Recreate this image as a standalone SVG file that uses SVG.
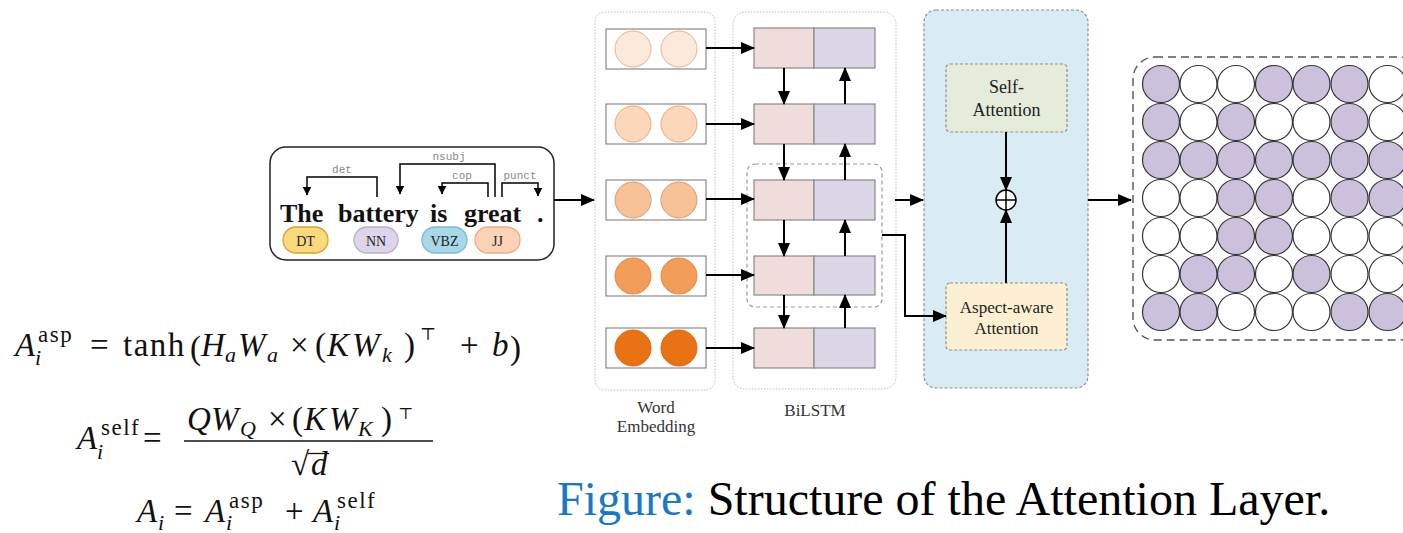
<svg xmlns="http://www.w3.org/2000/svg" width="1403" height="533" viewBox="0 0 1403 533">
<style>
.serif{font-family:"Liberation Serif","Times New Roman",serif}
.mi{font-family:"Liberation Serif","DejaVu Serif",serif;font-style:italic;font-size:33px;fill:#111}
.mr{font-family:"Liberation Serif","DejaVu Serif",serif;font-size:33px;fill:#111}
.sup{font-family:"Liberation Serif","DejaVu Serif",serif;font-size:23px;fill:#111;letter-spacing:1.5px}
.top{font-family:"DejaVu Serif","Liberation Serif",serif;fill:#111}
.subi{font-family:"Liberation Serif","DejaVu Serif",serif;font-style:italic;font-size:22px;fill:#111}
.word{font-family:"Liberation Serif",serif;font-weight:bold;font-size:26px;fill:#111}
.tag{font-family:"Liberation Serif",serif;font-size:14px;fill:#222;text-anchor:middle}
.rel{font-family:"Liberation Mono",monospace;font-size:11px;fill:#888;text-anchor:middle}
.lbl{font-family:"Liberation Serif",serif;font-size:17px;fill:#333;text-anchor:middle}
.panel{fill:#fff;stroke:#bdbdbd;stroke-width:1;stroke-dasharray:1.5 1.5}
.ebox{fill:#fff;stroke:#8a8a8a;stroke-width:1.2}
.fw{fill:#f1dcdc;stroke:#8a8a8a;stroke-width:1.2}
.bw{fill:#dcd7e6;stroke:#8a8a8a;stroke-width:1.2}
.con{fill:none;stroke:#000;stroke-width:2}
.arc{fill:none;stroke:#000;stroke-width:1.5}
.g{stroke:#333;stroke-width:1.2}
.p{fill:#cbc1dc}
.w{fill:#fff}
</style>
<defs>
<marker id="ah" markerUnits="userSpaceOnUse" markerWidth="14" markerHeight="12" refX="13" refY="6" orient="auto">
<path d="M0,0 L14,6 L0,12 Z" fill="#000"/>
</marker>
<marker id="sa" markerUnits="userSpaceOnUse" markerWidth="9" markerHeight="9" refX="8.5" refY="4.5" orient="auto">
<path d="M0,0 L9,4.5 L0,9 Z" fill="#000"/>
</marker>
</defs>

<!-- Dependency parse node -->
<g id="parse">
<rect x="270" y="147" width="284" height="113" rx="16" fill="#fff" stroke="#222" stroke-width="1.5"/>
<path class="arc" d="M377,197 V177 H307 V195" marker-end="url(#sa)"/>
<path class="arc" d="M495,197 V164 H400 V194" marker-end="url(#sa)"/>
<path class="arc" d="M488,197 V183 H442 V194" marker-end="url(#sa)"/>
<path class="arc" d="M502,197 V183 H538 V196" marker-end="url(#sa)"/>
<text class="rel" x="342" y="173">det</text>
<text class="rel" x="449" y="160">nsubj</text>
<text class="rel" x="462" y="179">cop</text>
<text class="rel" x="520" y="179">punct</text>
<text class="word" x="280" y="222">The</text>
<text class="word" x="338" y="222">battery</text>
<text class="word" x="430" y="222">is</text>
<text class="word" x="464" y="222">great</text>
<text class="word" x="537" y="222">.</text>
<rect x="283" y="227" width="45" height="26" rx="13" fill="#f8d97c" stroke="#d3a62c" stroke-width="1.3"/>
<rect x="354" y="227" width="44" height="26" rx="13" fill="#ddd5e8" stroke="#b8aed0" stroke-width="1.3"/>
<rect x="422" y="227" width="45" height="26" rx="13" fill="#a8d8e5" stroke="#7cbcd0" stroke-width="1.3"/>
<rect x="475" y="227" width="45" height="26" rx="13" fill="#fbd3b7" stroke="#f0aa80" stroke-width="1.3"/>
<text class="tag" x="305.5" y="246">DT</text>
<text class="tag" x="376" y="246">NN</text>
<text class="tag" x="444.5" y="246">VBZ</text>
<text class="tag" x="497.5" y="246">JJ</text>
</g>

<!-- Word embedding node -->
<g id="word-embedding">
<rect class="panel" x="595" y="12" width="120" height="378" rx="10"/>
<rect class="ebox" x="606" y="29" width="100" height="40"/>
<circle cx="633" cy="49" r="18" fill="#fde9da" stroke="#e6b48f"/>
<circle cx="679" cy="49" r="18" fill="#fde9da" stroke="#e6b48f"/>
<rect class="ebox" x="606" y="104" width="100" height="40"/>
<circle cx="633" cy="124" r="18" fill="#fbd7bb" stroke="#e6a77a"/>
<circle cx="679" cy="124" r="18" fill="#fbd7bb" stroke="#e6a77a"/>
<rect class="ebox" x="606" y="180" width="100" height="40"/>
<circle cx="633" cy="200" r="18" fill="#f8c298" stroke="#e39a62"/>
<circle cx="679" cy="200" r="18" fill="#f8c298" stroke="#e39a62"/>
<rect class="ebox" x="606" y="256" width="100" height="40"/>
<circle cx="633" cy="276" r="18" fill="#f29d5a" stroke="#e08a45"/>
<circle cx="679" cy="276" r="18" fill="#f29d5a" stroke="#e08a45"/>
<rect class="ebox" x="606" y="328" width="100" height="40"/>
<circle cx="633" cy="348" r="18" fill="#e97214" stroke="#d9660f"/>
<circle cx="679" cy="348" r="18" fill="#e97214" stroke="#d9660f"/>
<text class="lbl" x="656" y="413">Word</text>
<text class="lbl" x="656" y="432">Embedding</text>
</g>

<!-- BiLSTM node -->
<g id="bilstm">
<rect class="panel" x="733" y="12" width="163" height="377" rx="12"/>
<rect x="747" y="164" width="135" height="143" rx="8" fill="none" stroke="#9a9a9a" stroke-width="1.2" stroke-dasharray="4 3"/>
<rect class="fw" x="754" y="28" width="60" height="40"/><rect class="bw" x="814" y="28" width="61" height="40"/>
<rect class="fw" x="754" y="104" width="60" height="40"/><rect class="bw" x="814" y="104" width="61" height="40"/>
<rect class="fw" x="754" y="180" width="60" height="40"/><rect class="bw" x="814" y="180" width="61" height="40"/>
<rect class="fw" x="754" y="256" width="60" height="39"/><rect class="bw" x="814" y="256" width="61" height="39"/>
<rect class="fw" x="754" y="328" width="60" height="40"/><rect class="bw" x="814" y="328" width="61" height="40"/>
<text class="lbl" x="815" y="416">BiLSTM</text>
</g>

<!-- Attention node -->
<g id="attention">
<rect x="924" y="10" width="164" height="378" rx="12" fill="#d9ecf3" stroke="#8f8f8f" stroke-width="1.2" stroke-dasharray="3 2"/>
<g id="self-attention">
<rect x="946" y="64" width="121" height="68" rx="4" fill="#e5ecda" stroke="#8f8f8f" stroke-width="1.2" stroke-dasharray="3 2"/>
<text class="serif" x="1006.5" y="93" font-size="18" text-anchor="middle" fill="#222">Self-</text>
<text class="serif" x="1006.5" y="116" font-size="18" text-anchor="middle" fill="#222">Attention</text>
</g>
<g id="aspect-attention">
<rect x="946" y="283" width="121" height="67" rx="4" fill="#fdf0d2" stroke="#8f8f8f" stroke-width="1.2" stroke-dasharray="3 2"/>
<text class="serif" x="1006.5" y="313" font-size="17" text-anchor="middle" fill="#222">Aspect-aware</text>
<text class="serif" x="1006.5" y="334" font-size="17" text-anchor="middle" fill="#222">Attention</text>
</g>
<g id="sum">
<circle cx="1006" cy="200" r="10" fill="#fff" stroke="#000" stroke-width="1.5"/>
<path d="M996,200 H1016 M1006,190 V210" stroke="#000" stroke-width="1.5"/>
</g>
</g>

<!-- Output grid node -->
<g id="output-grid">
<rect x="1133" y="57" width="290" height="283" rx="22" fill="#fff" stroke="#555" stroke-width="1.4" stroke-dasharray="8 5"/>
<g class="g">
<circle class="p" cx="1161" cy="84" r="18.5"/><circle class="w" cx="1198.5" cy="84" r="18.5"/><circle class="w" cx="1236" cy="84" r="18.5"/><circle class="p" cx="1274" cy="84" r="18.5"/><circle class="p" cx="1311.5" cy="84" r="18.5"/><circle class="p" cx="1349.5" cy="84" r="18.5"/><circle class="w" cx="1387.5" cy="84" r="18.5"/>
<circle class="p" cx="1161" cy="122" r="18.5"/><circle class="w" cx="1198.5" cy="122" r="18.5"/><circle class="p" cx="1236" cy="122" r="18.5"/><circle class="w" cx="1274" cy="122" r="18.5"/><circle class="w" cx="1311.5" cy="122" r="18.5"/><circle class="p" cx="1349.5" cy="122" r="18.5"/><circle class="w" cx="1387.5" cy="122" r="18.5"/>
<circle class="p" cx="1161" cy="160" r="18.5"/><circle class="p" cx="1198.5" cy="160" r="18.5"/><circle class="p" cx="1236" cy="160" r="18.5"/><circle class="p" cx="1274" cy="160" r="18.5"/><circle class="p" cx="1311.5" cy="160" r="18.5"/><circle class="p" cx="1349.5" cy="160" r="18.5"/><circle class="p" cx="1387.5" cy="160" r="18.5"/>
<circle class="w" cx="1161" cy="198" r="18.5"/><circle class="w" cx="1198.5" cy="198" r="18.5"/><circle class="p" cx="1236" cy="198" r="18.5"/><circle class="p" cx="1274" cy="198" r="18.5"/><circle class="w" cx="1311.5" cy="198" r="18.5"/><circle class="p" cx="1349.5" cy="198" r="18.5"/><circle class="p" cx="1387.5" cy="198" r="18.5"/>
<circle class="w" cx="1161" cy="236" r="18.5"/><circle class="w" cx="1198.5" cy="236" r="18.5"/><circle class="p" cx="1236" cy="236" r="18.5"/><circle class="p" cx="1274" cy="236" r="18.5"/><circle class="w" cx="1311.5" cy="236" r="18.5"/><circle class="w" cx="1349.5" cy="236" r="18.5"/><circle class="w" cx="1387.5" cy="236" r="18.5"/>
<circle class="w" cx="1161" cy="274" r="18.5"/><circle class="p" cx="1198.5" cy="274" r="18.5"/><circle class="p" cx="1236" cy="274" r="18.5"/><circle class="w" cx="1274" cy="274" r="18.5"/><circle class="p" cx="1311.5" cy="274" r="18.5"/><circle class="w" cx="1349.5" cy="274" r="18.5"/><circle class="w" cx="1387.5" cy="274" r="18.5"/>
<circle class="p" cx="1161" cy="312" r="18.5"/><circle class="p" cx="1198.5" cy="312" r="18.5"/><circle class="w" cx="1236" cy="312" r="18.5"/><circle class="w" cx="1274" cy="312" r="18.5"/><circle class="w" cx="1311.5" cy="312" r="18.5"/><circle class="p" cx="1349.5" cy="312" r="18.5"/><circle class="p" cx="1387.5" cy="312" r="18.5"/>
</g>
</g>

<!-- Connectors -->
<g id="connectors">
<path class="con" d="M554,200 H594" marker-end="url(#ah)"/>
<path class="con" d="M706,48 H754" marker-end="url(#ah)"/>
<path class="con" d="M706,124 H754" marker-end="url(#ah)"/>
<path class="con" d="M706,199 H754" marker-end="url(#ah)"/>
<path class="con" d="M706,275 H754" marker-end="url(#ah)"/>
<path class="con" d="M706,348 H754" marker-end="url(#ah)"/>
<path class="con" d="M784,68 V104" marker-end="url(#ah)"/>
<path class="con" d="M784,144 V180" marker-end="url(#ah)"/>
<path class="con" d="M784,220 V256" marker-end="url(#ah)"/>
<path class="con" d="M784,295 V328" marker-end="url(#ah)"/>
<path class="con" d="M845,104 V68" marker-end="url(#ah)"/>
<path class="con" d="M845,180 V144" marker-end="url(#ah)"/>
<path class="con" d="M845,256 V220" marker-end="url(#ah)"/>
<path class="con" d="M845,328 V295" marker-end="url(#ah)"/>
<path class="con" d="M895,200 H923" marker-end="url(#ah)"/>
<path class="con" d="M882,235 H905 V316 H946" marker-end="url(#ah)"/>
<path class="con" d="M1006,132 V190" marker-end="url(#ah)"/>
<path class="con" d="M1006,283 V210" marker-end="url(#ah)"/>
<path class="con" d="M1088,200 H1131" marker-end="url(#ah)"/>
</g>

<!-- Formulas -->
<g id="formula-asp">
<text class="mi" x="15" y="356">A</text>
<text class="sup" x="38" y="342">asp</text>
<text class="subi" x="35" y="365">i</text>
<text class="mr" x="90" y="356">=</text>
<text class="mr" x="123" y="356" letter-spacing="1.5">tanh</text>
<text class="mr" x="190" y="359" font-size="44">(</text>
<text class="mi" x="201" y="356">H</text>
<text class="subi" x="225" y="362">a</text>
<text class="mi" x="238" y="356">W</text>
<text class="subi" x="267" y="362">a</text>
<text class="mr" x="290" y="356">×</text>
<text class="mr" x="315" y="356">(</text>
<text class="mi" x="327" y="356">K</text>
<text class="mi" x="352" y="356">W</text>
<text class="subi" x="382" y="362">k</text>
<text class="mr" x="404" y="356">)</text>
<text class="top" x="420" y="340" font-size="17">⊤</text>
<text class="mr" x="460" y="356">+</text>
<text class="mi" x="492" y="356">b</text>
<text class="mr" x="510" y="359" font-size="44">)</text>
</g>
<g id="formula-self">
<text class="mi" x="77" y="449">A</text>
<text class="sup" x="101" y="435">self</text>
<text class="subi" x="97" y="459">i</text>
<text class="mr" x="143" y="449">=</text>
<text class="mi" x="187" y="430">Q</text>
<text class="mi" x="211" y="430">W</text>
<text class="subi" x="240" y="436">Q</text>
<text class="mr" x="268" y="430">×</text>
<text class="mr" x="292" y="430">(</text>
<text class="mi" x="304" y="430">K</text>
<text class="mi" x="329" y="430">W</text>
<text class="subi" x="358" y="436">K</text>
<text class="mr" x="381" y="430">)</text>
<text class="top" x="398" y="419" font-size="16">⊤</text>
<line x1="184" y1="441" x2="433" y2="441" stroke="#111" stroke-width="1.5"/>
<text class="mr" x="291" y="475">√</text>
<line x1="308" y1="453.5" x2="329" y2="453.5" stroke="#111" stroke-width="1.3"/>
<text class="mi" x="311" y="475">d</text>
</g>
<g id="formula-sum">
<text class="mi" x="137" y="522">A</text>
<text class="subi" x="158" y="530">i</text>
<text class="mr" x="174" y="522">=</text>
<text class="mi" x="205" y="522">A</text>
<text class="sup" x="229" y="508">asp</text>
<text class="subi" x="226" y="530">i</text>
<text class="mr" x="285" y="522">+</text>
<text class="mi" x="313" y="522">A</text>
<text class="sup" x="337" y="508">self</text>
<text class="subi" x="334" y="530">i</text>
</g>

<!-- Caption -->
<text class="serif" x="557" y="515" font-size="48" fill="#000"><tspan fill="#1a78c4">Figure:</tspan> Structure of the Attention Layer.</text>
</svg>
